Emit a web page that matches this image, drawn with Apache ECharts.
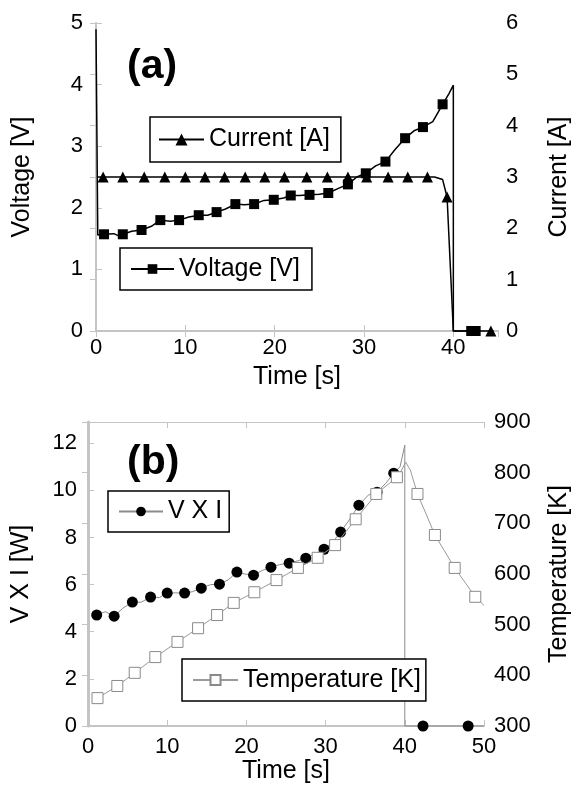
<!DOCTYPE html>
<html><head><meta charset="utf-8">
<script src="https://cdn.jsdelivr.net/npm/echarts@6/dist/echarts.min.js"></script>
<style>html,body{margin:0;padding:0;background:#fff}#c{width:580px;height:785px}</style>
</head><body><div id="c"></div>
<script>
// ---------- Panel (a) ----------
const aXTicks = [0, 10, 20, 30, 40];
const aVoltTraceT = [0, 0.2, 2.0, 2.6, 4.0, 6.2, 8.3, 10.4, 12.5, 14.5, 16.6, 18.8, 21.0, 22.8, 25.0, 27.2, 29.2, 31.3, 33.5, 35.6, 37.7, 39.5, 40.0, 40.0, 43.0];
const aVoltTraceV = [4.9, 1.56, 1.58, 1.54, 1.62, 1.70, 1.78, 1.85, 1.88, 1.98, 2.05, 2.12, 2.16, 2.20, 2.22, 2.32, 2.50, 2.68, 2.95, 3.25, 3.40, 3.85, 3.99, 0, 0];
const aVoltMarkT = [0.9, 3.0, 5.1, 7.2, 9.3, 11.5, 13.5, 15.6, 17.7, 19.9, 21.8, 23.9, 26.0, 28.2, 30.2, 32.4, 34.6, 36.6, 38.8, 42.0, 42.5];
const aVoltMarkV = [1.57, 1.57, 1.64, 1.80, 1.80, 1.88, 1.93, 2.06, 2.06, 2.13, 2.20, 2.21, 2.24, 2.38, 2.56, 2.75, 3.13, 3.31, 3.68, 0, 0];
const aCurrTraceT = [0.1, 37.9, 38.8, 40.0, 44.5];
const aCurrTraceV = [3.0, 3.0, 2.95, 0, 0];
const aCurrMarkT = [0.8, 3.0, 5.4, 7.7, 10.0, 12.2, 14.4, 16.7, 18.9, 21.1, 23.6, 25.9, 28.2, 30.3, 32.7, 34.9, 37.1, 39.3, 44.2];
const aCurrMarkV = [3.0, 3.0, 3.0, 3.0, 3.0, 3.0, 3.0, 3.0, 3.0, 3.0, 3.0, 3.0, 3.0, 3.0, 3.0, 3.0, 3.0, 2.61, 0];

// ---------- Panel (b) ----------
const bVxiTraceT = [0.5, 2.2, 4.4, 6.7, 9.0, 11.1, 13.2, 15.5, 17.7, 19.8, 22.0, 24.2, 26.4, 28.6, 30.9, 33.1, 35.4, 37.6, 39.4, 40.0, 40.0, 50.0];
const bVxiTraceV = [4.75, 4.85, 5.0, 5.25, 5.45, 5.65, 5.7, 6.0, 6.2, 6.45, 6.6, 6.85, 7.0, 7.3, 7.8, 8.8, 9.8, 10.3, 11.0, 11.92, 0, 0];
const bVxiMarkT = [1.1, 3.3, 5.6, 7.9, 10.0, 12.2, 14.3, 16.6, 18.8, 20.9, 23.1, 25.4, 27.5, 29.8, 31.9, 34.2, 36.5, 38.6, 42.3, 48.0];
const bVxiMarkV = [4.71, 4.66, 5.26, 5.47, 5.64, 5.64, 5.85, 6.02, 6.53, 6.40, 6.74, 6.91, 7.12, 7.50, 8.23, 9.37, 9.92, 10.73, 0, 0];
const bTempTraceT = [39.6, 40.1, 40.7, 42.7, 50.0];
const bTempTraceV = [805, 821, 805, 718, 538];
const bTempMarkT = [1.2, 3.7, 5.9, 8.5, 11.3, 13.9, 16.3, 18.4, 21.0, 23.8, 26.5, 29.0, 31.2, 33.8, 36.4, 39.0, 41.6, 43.8, 46.3, 48.9];
const bTempMarkV = [355, 379, 405, 436, 466, 493, 519, 543, 564, 588, 612, 632, 657, 708, 758, 791, 758, 677, 612, 555];

const FONT = '"Liberation Sans", Arial, sans-serif';
const AX = '#c4c4c4';

function merge(traceT, traceV, markT, markV) {
  const items = [];
  traceT.forEach((t, i) => items.push({ value: [t, traceV[i]], symbol: 'none' }));
  markT.forEach((t, i) => items.push({ value: [t, markV[i]] }));
  items.sort((a, b) => a.value[0] - b.value[0]);
  return items;
}

function xAx(grid, max, pos, show, margin) {
  return {
    type: 'value', gridIndex: grid, position: pos, min: 0, max: max, interval: 10,
    axisLine: { show: true, lineStyle: { color: AX, width: pos === 'bottom' ? 2 : 1 } },
    axisTick: { show: true, inside: true, length: 6, lineStyle: { color: AX, width: 1 } },
    axisLabel: { show: show, margin: margin, fontSize: 22, color: '#000', fontFamily: FONT, showMaxLabel: max % 10 === 0 },
    splitLine: { show: false }
  };
}
function yAx(grid, min, max, interval, pos, margin, name, gap, lw) {
  return {
    type: 'value', gridIndex: grid, position: pos, min: min, max: max, interval: interval,
    name: name, nameLocation: 'middle', nameGap: gap,
    nameTextStyle: { fontSize: 25, color: '#000', fontFamily: FONT },
    axisLine: { show: true, lineStyle: { color: AX, width: lw } },
    axisTick: { show: true, inside: true, length: 6, lineStyle: { color: AX, width: 1 } },
    axisLabel: { show: true, margin: margin, fontSize: 22, color: '#000', fontFamily: FONT,
      showMaxLabel: (max - min) % interval === 0 },
    splitLine: { show: false }
  };
}
function legend(name, left, top, iw, ih, pad) {
  return {
    data: [name], left: left, top: top, orient: 'horizontal',
    itemWidth: iw, itemHeight: ih, padding: pad,
    borderColor: '#000', borderWidth: 1.5, backgroundColor: '#fff',
    selectedMode: false,
    textStyle: { fontSize: 25, color: '#000', fontFamily: FONT }
  };
}

const chart = echarts.init(document.getElementById('c'), null, { renderer: 'canvas' });
chart.setOption({
  animation: false,
  backgroundColor: '#fff',
  title: [
    { text: '(a)', left: 127, top: 46, padding: 0, textStyle: { fontSize: 41, fontWeight: 'bold', fontFamily: FONT, color: '#000' } },
    { text: '(b)', left: 127, top: 442, padding: 0, textStyle: { fontSize: 41, fontWeight: 'bold', fontFamily: FONT, color: '#000' } }
  ],
  grid: [
    { left: 96, top: 23, width: 409, height: 308, containLabel: false },
    { left: 88, top: 422, width: 404, height: 304, containLabel: false }
  ],
  xAxis: [
    Object.assign(xAx(0, 45, 'bottom', true, 6), { name: 'Time [s]', nameLocation: 'middle', nameGap: 34, nameTextStyle: { fontSize: 25, color: '#000', fontFamily: FONT } }),
    xAx(0, 45, 'top', false, 6),
    Object.assign(xAx(1, 50, 'bottom', true, 10), { name: 'Time [s]', nameLocation: 'middle', nameGap: 26, nameTextStyle: { fontSize: 25, color: '#000', fontFamily: FONT } }),
    xAx(1, 50, 'top', false, 10)
  ],
  yAxis: [
    yAx(0, 0, 5, 1, 'left', 13, 'Voltage [V]', 61, 2),
    yAx(0, 0, 6, 1, 'right', 8, 'Current [A]', 49, 1),
    yAx(1, 0, 12.9, 2, 'left', 11, 'V X I [W]', 54, 3),
    yAx(1, 300, 900, 100, 'right', 10, 'Temperature [K]', 63, 1)
  ],
  legend: [
    legend('Current [A]', 150, 117, 45, 15, [10, 11, 10, 8]),
    legend('Voltage [V]', 120, 248, 43, 12, [8.5, 12, 8.5, 10]),
    legend('V X I', 108, 491, 44, 12, [8, 7, 8, 10]),
    legend('Temperature [K]', 182, 659, 45, 12.5, [8.5, 5, 8.5, 10])
  ],
  series: [
    { name: 'Current [A]', type: 'line', xAxisIndex: 0, yAxisIndex: 1,
      data: merge(aCurrTraceT, aCurrTraceV, aCurrMarkT, aCurrMarkV),
      symbol: 'triangle', symbolSize: 11, showAllSymbol: true, clip: false,
      lineStyle: { color: '#000', width: 1.5 }, itemStyle: { color: '#000' }, z: 2 },
    { name: 'Voltage [V]', type: 'line', xAxisIndex: 0, yAxisIndex: 0,
      data: merge(aVoltTraceT, aVoltTraceV, aVoltMarkT, aVoltMarkV),
      symbol: 'rect', symbolSize: 10, showAllSymbol: true, clip: false,
      lineStyle: { color: '#000', width: 1.5 }, itemStyle: { color: '#000' }, z: 3 },
    { name: 'V X I', type: 'line', xAxisIndex: 2, yAxisIndex: 2,
      data: merge(bVxiTraceT, bVxiTraceV, bVxiMarkT, bVxiMarkV),
      symbol: 'circle', symbolSize: 11, showAllSymbol: true, clip: false,
      lineStyle: { color: '#8c8c8c', width: 1 }, itemStyle: { color: '#000' }, z: 2 },
    { name: 'Temperature [K]', type: 'line', xAxisIndex: 2, yAxisIndex: 3,
      data: merge(bTempTraceT, bTempTraceV, bTempMarkT, bTempMarkV),
      symbol: 'rect', symbolSize: 11, showAllSymbol: true, clip: false,
      lineStyle: { color: '#9a9a9a', width: 1 }, itemStyle: { color: '#fff', borderColor: '#8a8a8a', borderWidth: 1 }, z: 3 }
  ]
});
</script></body></html>
